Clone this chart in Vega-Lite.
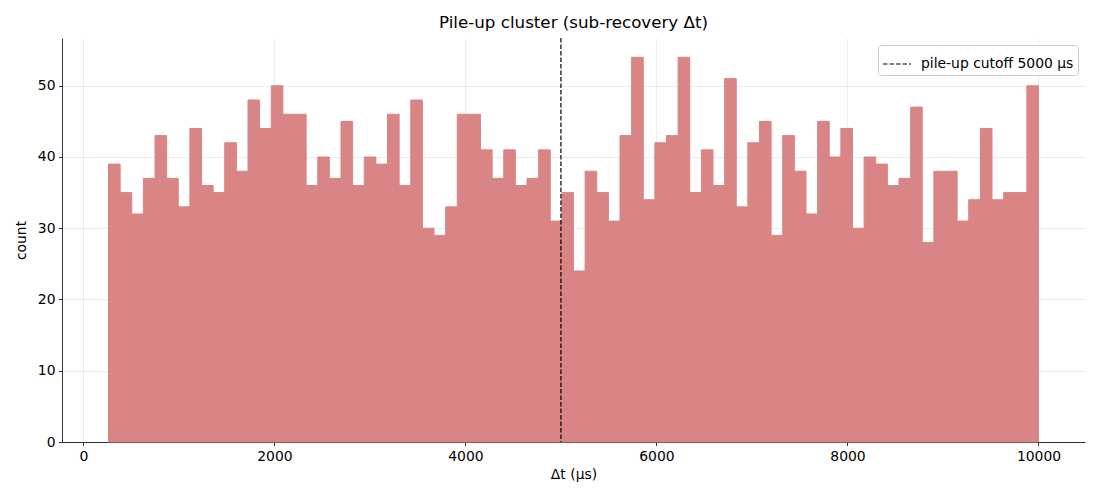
{
  "$schema": "https://vega.github.io/schema/vega-lite/v6.json",
  "width": 1023,
  "height": 404,
  "autosize": "none",
  "padding": {"left": 62, "top": 38, "right": 15, "bottom": 58},
  "background": "white",
  "config": {
    "font": "DejaVu Sans",
    "view": {"stroke": null},
    "axis": {
      "labelFont": "DejaVu Sans",
      "titleFont": "DejaVu Sans",
      "labelFontSize": 13.9,
      "titleFontSize": 13.9,
      "titleFontWeight": "normal",
      "labelColor": "black",
      "titleColor": "black",
      "domainColor": "black",
      "domainWidth": 0.8,
      "tickColor": "black",
      "tickWidth": 0.8,
      "tickSize": 3.5,
      "labelPadding": 3.5,
      "gridColor": "#b0b0b0",
      "gridOpacity": 0.3,
      "gridWidth": 0.8,
      "zindex": 1
    },
    "title": {"font": "DejaVu Sans", "fontSize": 16.7, "fontWeight": "normal", "color": "black"}
  },
  "title": {"text": "Pile-up cluster (sub-recovery Δt)", "anchor": "middle", "offset": 6},
  "layer": [
    {
      "data": {
        "values": [
          {"b0": 263.0, "b1": 384.7, "count": 39},
          {"b0": 384.7, "b1": 506.4, "count": 35},
          {"b0": 506.4, "b1": 628.1, "count": 32},
          {"b0": 628.1, "b1": 749.9, "count": 37},
          {"b0": 749.9, "b1": 871.6, "count": 43},
          {"b0": 871.6, "b1": 993.3, "count": 37},
          {"b0": 993.3, "b1": 1115.0, "count": 33},
          {"b0": 1115.0, "b1": 1236.7, "count": 44},
          {"b0": 1236.7, "b1": 1358.4, "count": 36},
          {"b0": 1358.4, "b1": 1480.1, "count": 35},
          {"b0": 1480.1, "b1": 1601.8, "count": 42},
          {"b0": 1601.8, "b1": 1723.6, "count": 38},
          {"b0": 1723.6, "b1": 1845.3, "count": 48},
          {"b0": 1845.3, "b1": 1967.0, "count": 44},
          {"b0": 1967.0, "b1": 2088.7, "count": 50},
          {"b0": 2088.7, "b1": 2210.4, "count": 46},
          {"b0": 2210.4, "b1": 2332.1, "count": 46},
          {"b0": 2332.1, "b1": 2453.8, "count": 36},
          {"b0": 2453.8, "b1": 2575.5, "count": 40},
          {"b0": 2575.5, "b1": 2697.3, "count": 37},
          {"b0": 2697.3, "b1": 2819.0, "count": 45},
          {"b0": 2819.0, "b1": 2940.7, "count": 36},
          {"b0": 2940.7, "b1": 3062.4, "count": 40},
          {"b0": 3062.4, "b1": 3184.1, "count": 39},
          {"b0": 3184.1, "b1": 3305.8, "count": 46},
          {"b0": 3305.8, "b1": 3427.5, "count": 36},
          {"b0": 3427.5, "b1": 3549.2, "count": 48},
          {"b0": 3549.2, "b1": 3671.0, "count": 30},
          {"b0": 3671.0, "b1": 3792.7, "count": 29},
          {"b0": 3792.7, "b1": 3914.4, "count": 33},
          {"b0": 3914.4, "b1": 4036.1, "count": 46},
          {"b0": 4036.1, "b1": 4157.8, "count": 46},
          {"b0": 4157.8, "b1": 4279.5, "count": 41},
          {"b0": 4279.5, "b1": 4401.2, "count": 37},
          {"b0": 4401.2, "b1": 4522.9, "count": 41},
          {"b0": 4522.9, "b1": 4644.7, "count": 36},
          {"b0": 4644.7, "b1": 4766.4, "count": 37},
          {"b0": 4766.4, "b1": 4888.1, "count": 41},
          {"b0": 4888.1, "b1": 5009.8, "count": 31},
          {"b0": 5009.8, "b1": 5131.5, "count": 35},
          {"b0": 5131.5, "b1": 5253.2, "count": 24},
          {"b0": 5253.2, "b1": 5374.9, "count": 38},
          {"b0": 5374.9, "b1": 5496.6, "count": 35},
          {"b0": 5496.6, "b1": 5618.4, "count": 31},
          {"b0": 5618.4, "b1": 5740.1, "count": 43},
          {"b0": 5740.1, "b1": 5861.8, "count": 54},
          {"b0": 5861.8, "b1": 5983.5, "count": 34},
          {"b0": 5983.5, "b1": 6105.2, "count": 42},
          {"b0": 6105.2, "b1": 6226.9, "count": 43},
          {"b0": 6226.9, "b1": 6348.6, "count": 54},
          {"b0": 6348.6, "b1": 6470.3, "count": 35},
          {"b0": 6470.3, "b1": 6592.1, "count": 41},
          {"b0": 6592.1, "b1": 6713.8, "count": 36},
          {"b0": 6713.8, "b1": 6835.5, "count": 51},
          {"b0": 6835.5, "b1": 6957.2, "count": 33},
          {"b0": 6957.2, "b1": 7078.9, "count": 42},
          {"b0": 7078.9, "b1": 7200.6, "count": 45},
          {"b0": 7200.6, "b1": 7322.3, "count": 29},
          {"b0": 7322.3, "b1": 7444.0, "count": 43},
          {"b0": 7444.0, "b1": 7565.8, "count": 38},
          {"b0": 7565.8, "b1": 7687.5, "count": 32},
          {"b0": 7687.5, "b1": 7809.2, "count": 45},
          {"b0": 7809.2, "b1": 7930.9, "count": 40},
          {"b0": 7930.9, "b1": 8052.6, "count": 44},
          {"b0": 8052.6, "b1": 8174.3, "count": 30},
          {"b0": 8174.3, "b1": 8296.0, "count": 40},
          {"b0": 8296.0, "b1": 8417.7, "count": 39},
          {"b0": 8417.7, "b1": 8539.5, "count": 36},
          {"b0": 8539.5, "b1": 8661.2, "count": 37},
          {"b0": 8661.2, "b1": 8782.9, "count": 47},
          {"b0": 8782.9, "b1": 8904.6, "count": 28},
          {"b0": 8904.6, "b1": 9026.3, "count": 38},
          {"b0": 9026.3, "b1": 9148.0, "count": 38},
          {"b0": 9148.0, "b1": 9269.7, "count": 31},
          {"b0": 9269.7, "b1": 9391.4, "count": 34},
          {"b0": 9391.4, "b1": 9513.2, "count": 44},
          {"b0": 9513.2, "b1": 9634.9, "count": 34},
          {"b0": 9634.9, "b1": 9756.6, "count": 35},
          {"b0": 9756.6, "b1": 9878.3, "count": 35},
          {"b0": 9878.3, "b1": 10000.0, "count": 50}
        ]
      },
      "mark": {"type": "rect", "color": "#d98585", "stroke": "#d98585", "strokeWidth": 1, "opacity": 1},
      "encoding": {
        "x": {
          "field": "b0", "type": "quantitative",
          "scale": {"domain": [-224, 10487], "nice": false, "zero": false},
          "axis": {"values": [0, 2000, 4000, 6000, 8000, 10000], "format": "d", "title": "Δt (μs)", "titlePadding": 5, "grid": true}
        },
        "x2": {"field": "b1"},
        "y": {
          "field": "count", "type": "quantitative",
          "scale": {"domain": [0, 56.7], "nice": false},
          "axis": {"values": [0, 10, 20, 30, 40, 50], "title": "count", "titlePadding": 9, "grid": true}
        },
        "y2": {"datum": 0}
      }
    },
    {
      "data": {"values": [{"cutoff": 5000, "label": "pile-up cutoff 5000 μs"}]},
      "mark": {"type": "rule", "strokeDash": [4.5, 2], "strokeWidth": 1.2, "zindex": 2},
      "encoding": {
        "x": {"field": "cutoff", "type": "quantitative"},
        "color": {
          "field": "label", "type": "nominal",
          "scale": {"range": ["black"]},
          "legend": {
            "title": null,
            "orient": "top-right",
            "offset": 7,
            "fillColor": "white",
            "strokeColor": "#cccccc",
            "cornerRadius": 3,
            "padding": 4,
            "symbolType": "stroke",
            "symbolSize": 784,
            "symbolStrokeWidth": 1.2,
            "symbolDash": [4.5, 2],
            "labelFont": "DejaVu Sans",
            "labelFontSize": 13.9,
            "labelColor": "black",
            "labelOffset": 9,
            "zindex": 3
          }
        }
      }
    }
  ]
}
